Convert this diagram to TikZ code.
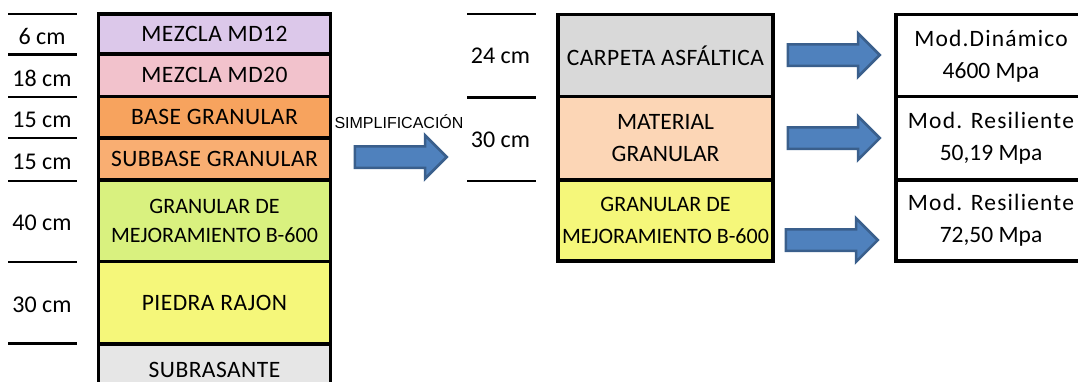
\documentclass[tikz,border=0pt]{standalone}
\usepackage{fontspec}
\setmainfont{Carlito}
\newfontfamily\arialf{Liberation Sans}
\usetikzlibrary{shapes.arrows, positioning}

\definecolor{lila}{HTML}{DCC8EA}
\definecolor{rosa}{HTML}{F2C2CC}
\definecolor{naranja}{HTML}{F7A35E}
\definecolor{naranjaclaro}{HTML}{F9AE72}
\definecolor{lima}{HTML}{D9F17F}
\definecolor{amarillo}{HTML}{F5F77A}
\definecolor{grisclaro}{HTML}{E6E6E6}
\definecolor{gris}{HTML}{D9D9D9}
\definecolor{durazno}{HTML}{FCD6B6}
\definecolor{azul}{HTML}{4F81BD}
\definecolor{azulosc}{HTML}{3A5F8C}

\begin{document}
\begin{tikzpicture}[x=1pt, y=-1pt,
    capa/.style={draw=black, line width=3.5pt, inner sep=0pt, align=center,
        font=\fontsize{23.5}{29}\selectfont\addfontfeatures{LetterSpace=2}},
    capados/.style={capa, font=\fontsize{22}{29}\selectfont},
    modulo/.style={capa, font=\fontsize{23.5}{32}\selectfont},
    espesor/.style={font=\fontsize{24}{26}\selectfont, inner sep=0pt},
    cota/.style={line width=2.5pt},
    flecha/.style={single arrow, draw=azulosc, fill=azul, line width=2.5pt,
        inner sep=9.5pt, minimum width=0pt, minimum height=92pt,
        single arrow head extend=11pt, single arrow head indent=0pt}]
\clip (0,0) rectangle (1078,381);

% estructura original
\node[capa, fill=lila, minimum width=232pt, minimum height=40pt] (md12) at (214.5,34) {MEZCLA MD12};
\node[capa, fill=rosa, minimum width=232pt, minimum height=42.5pt] (md20) at (214.5,75.25) {MEZCLA MD20};
\node[capa, fill=naranja, minimum width=232pt, minimum height=41.5pt] (base) at (214.5,117.25) {BASE GRANULAR};
\node[capa, fill=naranjaclaro, minimum width=232pt, minimum height=42pt] (subbase) at (214.5,159) {SUBBASE GRANULAR};
\node[capados, fill=lima, minimum width=232pt, minimum height=81.5pt] (mejor) at (214.5,220.75) {GRANULAR DE\\MEJORAMIENTO B-600};
\node[capa, fill=amarillo, minimum width=232pt, minimum height=82.5pt] (piedra) at (214.5,302.75) {PIEDRA RAJON};
\node[capa, fill=grisclaro, minimum width=232pt, minimum height=51pt] (subras) at (214.5,369.5) {SUBRASANTE};

% cotas izquierda
\foreach \y in {14,54.5,97,138,181,262,343.5}
    \draw[cota] (8,\y) -- (77,\y);
\node[espesor] (e1) at (42,36) {6 cm};
\node[espesor] (e2) at (42,78) {18 cm};
\node[espesor] (e3) at (42,120) {15 cm};
\node[espesor] (e4) at (42,162) {15 cm};
\node[espesor] (e5) at (42,223) {40 cm};
\node[espesor] (e6) at (42,304.5) {30 cm};

% simplificacion
\node[font=\arialf\fontsize{16}{18}\selectfont, inner sep=0pt] (simp) at (399,122) {SIMPLIFICACIÓN};
\node[flecha, anchor=tail] (fs) at (353.5,157) {};

% estructura simplificada
\draw[cota] (467,14) -- (536,14);
\draw[cota] (467,97.5) -- (536,97.5);
\draw[cota] (467,181) -- (536,181);
\node[espesor] (e7) at (500.5,55.5) {24 cm};
\node[espesor] (e8) at (500.5,140) {30 cm};

\node[capa, fill=gris, minimum width=215pt, minimum height=82.5pt] (carpeta) at (665.5,55.75) {CARPETA ASFÁLTICA};
\node[modulo, fill=durazno, minimum width=215pt, minimum height=83.3pt] (material) at (665.5,138.35) {MATERIAL\\GRANULAR};
\node[modulo, fill=amarillo, minimum width=215pt, minimum height=81pt, font=\fontsize{22}{32}\selectfont] (granular) at (665.5,220.5) {GRANULAR DE\\MEJORAMIENTO B-600};

% modulos
\node[modulo, fill=white, minimum width=190pt, minimum height=82.5pt] (m1) at (991,55.75) {\addfontfeatures{LetterSpace=5}Mod.Dinámico\\4600 Mpa};
\node[modulo, fill=white, minimum width=190pt, minimum height=83.3pt] (m2) at (991,138.35) {\addfontfeatures{LetterSpace=5}Mod. Resiliente\\50,19 Mpa};
\node[modulo, fill=white, minimum width=190pt, minimum height=81pt] (m3) at (991,220.5) {\addfontfeatures{LetterSpace=5}Mod. Resiliente\\72,50 Mpa};

\node[flecha, anchor=tail] (f1) at (786.5,55) {};
\node[flecha, anchor=tail] (f2) at (786.5,138) {};
\node[flecha, anchor=tail] (f3) at (784.5,240) {};
\end{tikzpicture}
\end{document}
